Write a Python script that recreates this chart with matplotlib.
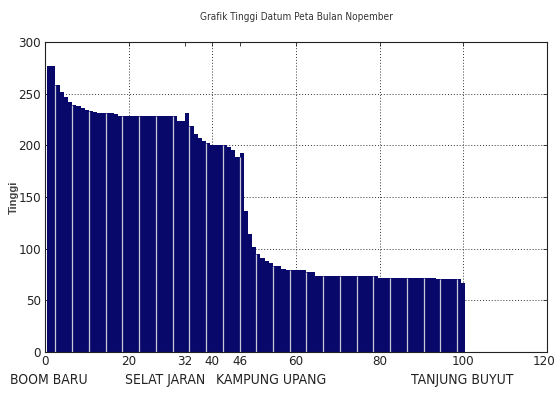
import matplotlib
matplotlib.use("Agg")
import matplotlib.pyplot as plt
from matplotlib import font_manager as fm
from matplotlib.transforms import ScaledTranslation
import numpy as np

title = "Grafik Tinggi Datum Peta Bulan Nopember"
ylabel = "Tinggi"

positions = list(range(1, 101))
heights = [
    277, 277, 258, 252, 247, 242, 239, 238, 236, 234,      # 1-10
    233, 232, 231, 231, 231, 231, 230, 228, 228, 228,      # 11-20
    228, 228, 228, 228, 228, 228, 228, 228, 228, 228,      # 21-30
    228, 224, 224, 231, 219, 211, 207, 204, 202, 200,      # 31-40
    200, 200, 200, 198.5, 195.5, 189, 192.5, 136, 114, 102,  # 41-50
    95, 91, 88, 86, 83, 83, 80, 79, 79, 79,                # 51-60
    79, 79, 77, 77, 73.5, 73.5, 73.5, 73.5, 73.5, 73.5,    # 61-70
    73.5, 73.5, 73.5, 73.5, 73.5, 73.5, 73.5, 73.5, 73.5, 72,  # 71-80
    72, 72, 72, 72, 72, 72, 72, 72, 72, 72,                # 81-90
    72, 72, 72, 70.5, 70.5, 70.5, 70.5, 70.5, 70.5, 67,    # 91-100
]

major_ticks = [0, 20, 40, 60, 80, 100, 120]
extra_ticks = [33.5, 46.5]
extra_labels = ["32", "46"]
yticks = [0, 50, 100, 150, 200, 250, 300]

places = ["BOOM BARU", "SELAT JARAN", "KAMPUNG UPANG", "TANJUNG BUYUT"]
place_x = [-8.4, 38.2, 40.9, 99.7]
place_ha = ["left", "right", "left", "center"]

# pick a narrow font if one is installed
entries = fm.fontManager.ttflist
narrow_file = None
for f in entries:
    nm = f.name
    st = str(f.stretch)
    if ("Narrow" in nm or "Condensed" in nm or st in ("condensed", "semi-condensed", "extra-condensed")) \
            and "Mono" not in nm and "Serif" not in nm and f.style == "normal" and f.weight in (400, "normal", "regular"):
        narrow_file = f.fname
        break

if narrow_file is not None:
    def fp(size):
        return fm.FontProperties(fname=narrow_file, size=size)
    scale = 1.0
else:
    def fp(size):
        return fm.FontProperties(family=["Liberation Sans", "DejaVu Sans"], size=size)
    scale = 0.8

fig = plt.figure(figsize=(5.56, 3.99), dpi=100)
ax = fig.add_axes([45/556, 1-352/399, (547-45)/556, (352-42)/399])

bar_color = "#08086a"
ax.bar(positions, heights, width=1.0, color=bar_color, linewidth=0, zorder=2)

# light separator lines (every 4th bar edge, as in the reference rendering)
pos = np.array(positions)
h = np.array(heights)
idx = np.arange(1, len(pos) - 1, 4)
edge_x = pos[idx] + 0.5
edge_top = np.minimum(h[idx], h[idx + 1])
ax.vlines(edge_x, 0, edge_top, colors="#c8c8d8", linewidth=0.9, zorder=3)

ax.set_xlim(0, 120)
ax.set_ylim(0, 300)
ax.set_xticks(major_ticks)
ax.set_xticks(extra_ticks, minor=True)
ax.set_xticklabels([str(t) for t in major_ticks])
ax.set_xticklabels(extra_labels, minor=True)
ax.set_yticks(yticks)
ax.set_yticklabels([str(t) for t in yticks])

ax.grid(True, which="major", linestyle=(0, (1, 2)), color="#333333", linewidth=0.7, zorder=1)
ax.set_axisbelow(True)

ax.tick_params(axis="both", which="both", direction="in", top=True, right=True,
               length=3, width=0.6, colors="#222222", labelcolor="#222222")
ax.tick_params(axis="x", which="both", pad=2)
ax.tick_params(axis="y", which="both", pad=3)
for lab in ax.get_xticklabels(which="both") + ax.get_yticklabels():
    lab.set_fontproperties(fp(9.5 * scale))

# nudge the last x tick label so it stays inside the figure
last = ax.get_xticklabels()[-1]
last.set_transform(last.get_transform() + ScaledTranslation(-3 / 100, 0, fig.dpi_scale_trans))

for s in ax.spines.values():
    s.set_linewidth(0.8)
    s.set_color("#222222")

ax.set_title(title, fontproperties=fp(7.2 * scale), color="#333333", pad=16)
ax.yaxis.set_label_coords(-0.052, 0.5)
ax.set_ylabel(ylabel, fontsize=8, family=["Liberation Sans", "DejaVu Sans"],
              fontweight="bold", color="#444444")

for name, xp, ha in zip(places, place_x, place_ha):
    ax.text(xp, -0.09, name, transform=ax.get_xaxis_transform(), ha=ha, va="center",
            fontproperties=fp(10 * scale), color="#222222")

fig.savefig("out.png", dpi=100, facecolor="white")
